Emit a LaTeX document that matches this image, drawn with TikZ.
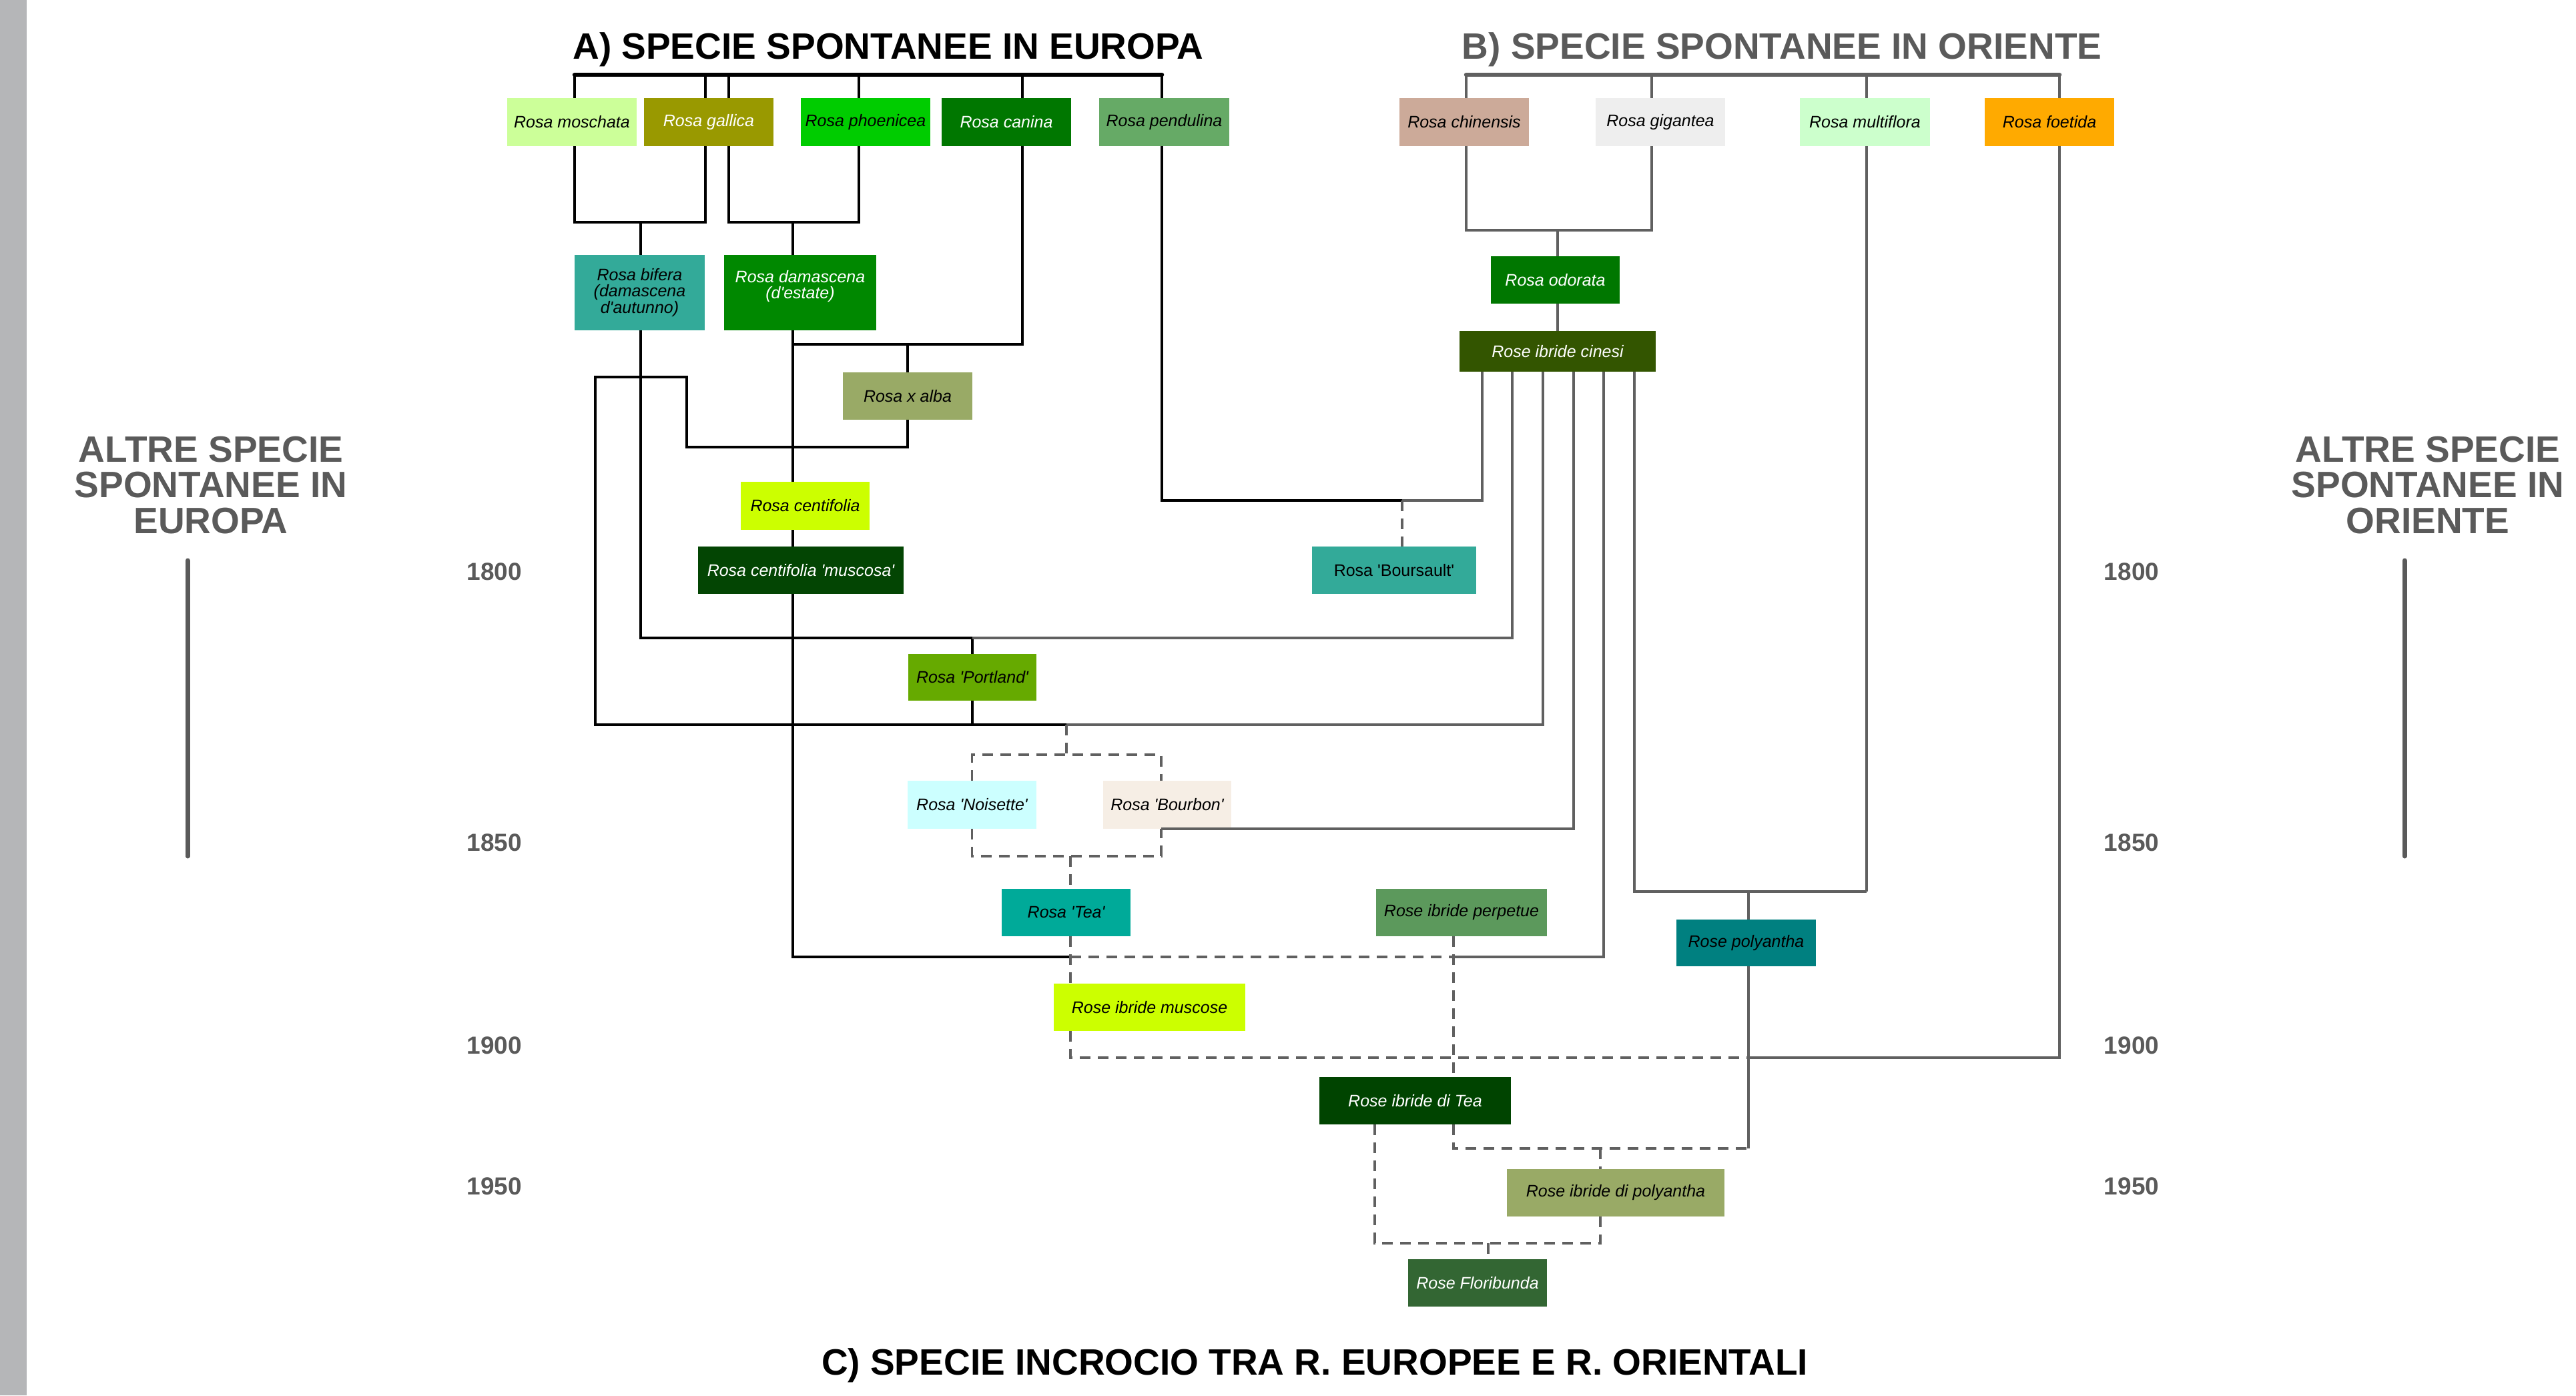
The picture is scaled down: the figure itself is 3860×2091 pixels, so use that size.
\documentclass[tikz,border=0pt]{standalone}
\usepackage{fontspec}
\setmainfont{Liberation Sans}[Ligatures=TeXOff]
\definecolor{stripgray}{HTML}{B5B6B8}
\definecolor{titlegray}{HTML}{5A5A5A}
\definecolor{linegray}{HTML}{606060}
\definecolor{cMosch}{HTML}{CCFF99}
\definecolor{cGall}{HTML}{999900}
\definecolor{cPhoe}{HTML}{00CC00}
\definecolor{cCan}{HTML}{007700}
\definecolor{cPend}{HTML}{66AA66}
\definecolor{cChin}{HTML}{CCAA99}
\definecolor{cGig}{HTML}{EEEEEE}
\definecolor{cMulti}{HTML}{CCFFCC}
\definecolor{cFoet}{HTML}{FFAA00}
\definecolor{cBif}{HTML}{33AA99}
\definecolor{cDam}{HTML}{008800}
\definecolor{cAlba}{HTML}{99AA66}
\definecolor{cCent}{HTML}{CCFF00}
\definecolor{cMusc}{HTML}{034503}
\definecolor{cPort}{HTML}{66AA00}
\definecolor{cOdor}{HTML}{007700}
\definecolor{cCin}{HTML}{335500}
\definecolor{cBours}{HTML}{33AA99}
\definecolor{cNois}{HTML}{CCFFFF}
\definecolor{cBourb}{HTML}{F6EEE5}
\definecolor{cTea}{HTML}{00AA99}
\definecolor{cPerp}{HTML}{5C995C}
\definecolor{cPoly}{HTML}{008080}
\definecolor{cIbTea}{HTML}{004400}
\definecolor{cFlor}{HTML}{336633}
\tikzset{
  rb/.style={rectangle, inner sep=0pt, align=center, text=black,
    font=\fontsize{25}{24.5}\selectfont\itshape},
  wt/.style={text=white},
  ttl/.style={inner sep=0pt, font=\fontsize{55}{60}\selectfont\bfseries},
  side/.style={inner sep=0pt, align=center, text=titlegray,
    font=\fontsize{55}{53.5}\selectfont\bfseries},
  yr/.style={inner sep=0pt, text=titlegray, font=\fontsize{37}{40}\selectfont\bfseries},
  bl/.style={line width=3.6pt, black},
  gl/.style={line width=3.6pt, linegray},
  dl/.style={line width=3.4pt, linegray, dash pattern=on 16pt off 11pt},
  barA/.style={line width=6.5pt, black, line cap=round},
  barB/.style={line width=6.5pt, linegray, line cap=round},
  axis/.style={line width=7pt, titlegray, line cap=round}
}
\begin{document}
\begin{tikzpicture}[x=1pt,y=-1pt]
\useasboundingbox (0,0) rectangle (3860,2091);
\fill[stripgray] (0,0) rectangle (40,2091);

% titles
\node[ttl, anchor=base] (tA) at (1331,88) {A) SPECIE SPONTANEE IN EUROPA};
\node[ttl, anchor=base, text=titlegray] (tB) at (2670,88) {B) SPECIE SPONTANEE IN ORIENTE};
\node[ttl, anchor=base] (tC) at (1970,2060) {C) SPECIE INCROCIO TRA R. EUROPEE E R. ORIENTALI};

% side labels and time axes
\node[side] (sideL) at (316,727) {ALTRE SPECIE\\SPONTANEE IN\\EUROPA};
\node[side] (sideR) at (3638,727) {ALTRE SPECIE\\SPONTANEE IN\\ORIENTE};
\draw[axis] (281,840) -- (281,1283);
\draw[axis] (3603,840) -- (3603,1283);
\node[yr, anchor=base] (yL1) at (741,869) {1800};
\node[yr, anchor=base] (yL2) at (741,1275) {1850};
\node[yr, anchor=base] (yL3) at (741,1579) {1900};
\node[yr, anchor=base] (yL4) at (741,1790) {1950};
\node[yr, anchor=base] (yR1) at (3194,869) {1800};
\node[yr, anchor=base] (yR2) at (3194,1275) {1850};
\node[yr, anchor=base] (yR3) at (3194,1579) {1900};
\node[yr, anchor=base] (yR4) at (3194,1790) {1950};

% species boxes
\node[rb, fill=cMosch, minimum width=194pt, minimum height=72pt] (moschata) at (857,183) {Rosa moschata};
\node[rb, wt, fill=cGall, minimum width=194pt, minimum height=72pt] (gallica) at (1062,183) {Rosa gallica};
\node[rb, fill=cPhoe, minimum width=194pt, minimum height=72pt] (phoenicea) at (1297,183) {Rosa phoenicea};
\node[rb, wt, fill=cCan, minimum width=194pt, minimum height=72pt] (canina) at (1508,183) {Rosa canina};
\node[rb, fill=cPend, minimum width=195pt, minimum height=72pt] (pendulina) at (1744.5,183) {Rosa pendulina};
\node[rb, fill=cChin, minimum width=194pt, minimum height=72pt] (chinensis) at (2194,183) {Rosa chinensis};
\node[rb, fill=cGig, minimum width=194pt, minimum height=72pt] (gigantea) at (2488,183) {Rosa gigantea};
\node[rb, fill=cMulti, minimum width=195pt, minimum height=72pt] (multiflora) at (2794.5,183) {Rosa multiflora};
\node[rb, fill=cFoet, minimum width=194pt, minimum height=72pt] (foetida) at (3071,183) {Rosa foetida};

\node[rb, fill=cBif, minimum width=195pt, minimum height=113pt] (bifera) at (958.5,438.5) {Rosa bifera\\(damascena\\d'autunno)};
\node[rb, wt, fill=cDam, minimum width=228pt, minimum height=113pt] (damascena) at (1199,438.5) {Rosa damascena\\(d'estate)\\\mbox{}};
\node[rb, fill=cAlba, minimum width=194pt, minimum height=71pt] (alba) at (1360,593.5) {Rosa x alba};
\node[rb, fill=cCent, minimum width=193pt, minimum height=72pt] (centifolia) at (1206.5,758) {Rosa centifolia};
\node[rb, wt, fill=cMusc, minimum width=308pt, minimum height=71pt] (muscosa) at (1200,854.5) {Rosa centifolia 'muscosa'};
\node[rb, fill=cPort, minimum width=192pt, minimum height=70pt] (portland) at (1457,1015) {Rosa 'Portland'};
\node[rb, wt, fill=cOdor, minimum width=193pt, minimum height=71pt] (odorata) at (2330.5,419.5) {Rosa odorata};
\node[rb, wt, fill=cCin, minimum width=294pt, minimum height=61pt] (cinesi) at (2334,526.5) {Rose ibride cinesi};
\node[rb, fill=cBours, minimum width=246pt, minimum height=71pt, font=\fontsize{25}{24.5}\selectfont\upshape] (boursault) at (2089,854.5) {Rosa 'Boursault'};
\node[rb, fill=cNois, minimum width=193pt, minimum height=72pt] (noisette) at (1456.5,1206) {Rosa 'Noisette'};
\node[rb, fill=cBourb, minimum width=192pt, minimum height=72pt] (bourbon) at (1749,1206) {Rosa 'Bourbon'};
\node[rb, fill=cTea, minimum width=193pt, minimum height=71pt] (tea) at (1597.5,1367.5) {Rosa 'Tea'};
\node[rb, fill=cPerp, minimum width=256pt, minimum height=71pt] (perpetue) at (2190,1367.5) {Rose ibride perpetue};
\node[rb, fill=cPoly, minimum width=209pt, minimum height=70pt] (polyantha) at (2616.5,1413) {Rose polyantha};
\node[rb, fill=cCent, minimum width=287pt, minimum height=71pt] (muscose) at (1722.5,1509.5) {Rose ibride muscose};
\node[rb, wt, fill=cIbTea, minimum width=287pt, minimum height=71pt] (ibtea) at (2120.5,1649.5) {Rose ibride di Tea};
\node[rb, fill=cAlba, minimum width=326pt, minimum height=71pt] (ibpoly) at (2421,1787.5) {Rose ibride di polyantha};
\node[rb, wt, fill=cFlor, minimum width=208pt, minimum height=71pt] (floribunda) at (2214,1922.5) {Rose Floribunda};

% junction coordinates
\coordinate (barAl) at (861,112);
\coordinate (barAr) at (1741,112);
\coordinate (barBl) at (2197,112);
\coordinate (barBr) at (3086,112);
\coordinate (jBif) at (960,333);
\coordinate (jDam) at (1188,333);
\coordinate (jCan) at (1188,516);
\coordinate (jAlba) at (1360,516);
\coordinate (kA) at (1029,670);
\coordinate (kB) at (1029,565);
\coordinate (kC) at (892,1086);
\coordinate (jPortTop) at (1457,956);
\coordinate (jPortBot) at (1598,1086);
\coordinate (jPend) at (2101,750);
\coordinate (jNBtop) at (1598,1131);
\coordinate (jNBbot) at (1604,1283);
\coordinate (jDamEnd) at (1188,1434);
\coordinate (jTea) at (1604,1434);
\coordinate (jPerp) at (2178,1434);
\coordinate (jOr) at (2334,345);
\coordinate (jMulti) at (2797,1336);
\coordinate (jPoly) at (2620,1336);
\coordinate (jFoet) at (2620,1585);
\coordinate (jIbT) at (2620,1721);
\coordinate (jIbP) at (2398,1721);
\coordinate (jFlor) at (2398,1863);
\coordinate (jFlorC) at (2230,1863);

% top bars
\draw[barA] (barAl) -- (barAr);
\draw[barB] (barBl) -- (barBr);
\foreach \n/\x in {moschata/861, gallica/1057, gallica/1092, phoenicea/1287, canina/1532, pendulina/1741}
  \draw[bl] (\n.north -| \x,0) -- (\x,112);
\foreach \n/\x in {chinensis/2197, gigantea/2475, multiflora/2797, foetida/3086}
  \draw[gl] (\n.north -| \x,0) -- (\x,112);

% European lineage (black)
\draw[bl] (moschata.south -| 861,0) |- (jBif) -| (gallica.south -| 1057,0);
\draw[bl] (jBif) -- (bifera.north -| jBif);
\draw[bl] (gallica.south -| 1092,0) |- (jDam) -| (phoenicea.south -| 1287,0);
\draw[bl] (jDam) -- (damascena.north -| jDam);
\draw[bl] (damascena.south -| jDam) -- (centifolia.north -| jDam);
\draw[bl] (centifolia.south -| jDam) -- (muscosa.north -| jDam);
\draw[bl] (muscosa.south -| jDam) -- (jDamEnd) -- (jTea);
\draw[bl] (canina.south -| 1532,0) |- (jCan);
\draw[bl] (jAlba) -- (alba.north);
\draw[bl] (alba.south) |- (kA) -- (kB) -| (kC) -- (jPortBot);
\draw[bl] (bifera.south -| 960,0) |- (jPortTop);
\draw[bl] (jPortTop) -- (portland.north);
\draw[bl] (portland.south) -- (portland.south |- jPortBot);
\draw[bl] (pendulina.south -| 1741,0) |- (jPend);

% Oriental lineage (gray)
\draw[gl] (chinensis.south -| 2197,0) |- (jOr) -| (gigantea.south -| 2475,0);
\draw[gl] (jOr) -- (odorata.north -| jOr);
\draw[gl] (odorata.south -| jOr) -- (cinesi.north -| jOr);
\draw[gl] (jPend) -| (cinesi.south -| 2221,0);
\draw[gl] (jPortTop) -| (cinesi.south -| 2266,0);
\draw[gl] (jPortBot) -| (cinesi.south -| 2312,0);
\draw[gl] (bourbon.south -| 1740,1283) -| (cinesi.south -| 2358,0);
\draw[gl] (jPerp) -| (cinesi.south -| 2403,0);
\draw[gl] (cinesi.south -| 2449,0) |- (jMulti);
\draw[gl] (multiflora.south -| 2797,0) -- (jMulti);
\draw[gl] (jPoly) -- (polyantha.north -| jPoly);
\draw[gl] (polyantha.south -| jPoly) -- (jIbT);
\draw[gl] (foetida.south -| 3086,0) |- (jFoet);

% dashed (uncertain) links
\draw[dl] (jPend) -- (boursault.north -| jPend);
\draw[dl] (jPortBot) -- (jNBtop);
\draw[dl] (noisette.north) |- (jNBtop) -| (bourbon.north -| 1740,0);
\draw[dl] (noisette.south) |- (jNBbot) -| (bourbon.south -| 1740,0);
\draw[dl] (jNBbot) -- (tea.north -| jNBbot);
\draw[dl] (tea.south -| jTea) -- (muscose.north -| jTea);
\draw[dl] (jTea) -- (jPerp);
\draw[dl] (perpetue.south -| jPerp) -- (ibtea.north -| jPerp);
\draw[dl] (muscose.south -| jTea) |- (jFoet);
\draw[dl] (ibtea.south -| jPerp) |- (jIbT);
\draw[dl] (jIbP) -- (ibpoly.north -| jIbP);
\draw[dl] (ibtea.south -| 2060,0) |- (jFlor) -- (ibpoly.south -| jFlor);
\draw[dl] (jFlorC) -- (floribunda.north -| jFlorC);
\end{tikzpicture}
\end{document}
